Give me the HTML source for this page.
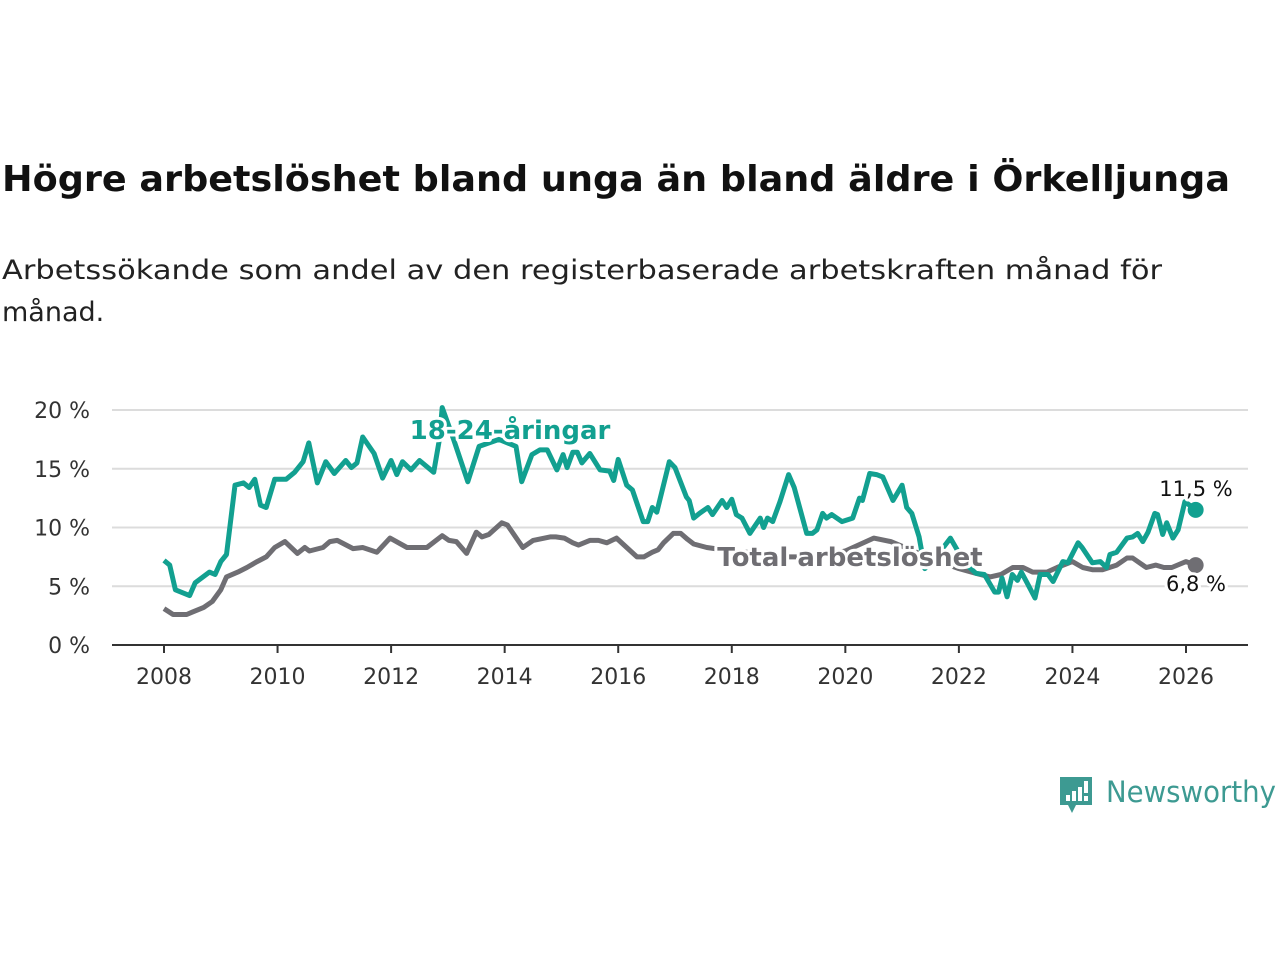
<!DOCTYPE html>
<html><head><meta charset="utf-8">
<style>
body{margin:0;background:#fff;width:1280px;height:960px;overflow:hidden;font-family:"Liberation Sans","DejaVu Sans",sans-serif}
svg text{font-family:"DejaVu Sans","Liberation Sans",sans-serif}
</style></head>
<body>
<svg id="chart" width="1280" height="960">
<text x="2" y="191" font-size="36" font-weight="bold" fill="#111" textLength="1228" lengthAdjust="spacingAndGlyphs">Högre arbetslöshet bland unga än bland äldre i Örkelljunga</text>
<text x="2" y="279" font-size="27" fill="#222" textLength="1160" lengthAdjust="spacingAndGlyphs">Arbetssökande som andel av den registerbaserade arbetskraften månad för</text>
<text x="2" y="321" font-size="27" fill="#222">månad.</text>
<g id="grid"></g><g id="lines"></g><g id="labels"></g>
<g>
<path d="M1060 777 h32 v28 h-16 l-4 8 l-4 -8 h-8 z" fill="#3d9a92"/>
<rect x="1066" y="795" width="4" height="6" fill="#fff"/><rect x="1072" y="791" width="4" height="10" fill="#fff"/><rect x="1078" y="787" width="4" height="14" fill="#fff"/><rect x="1084" y="781" width="4" height="12" fill="#fff"/><rect x="1084" y="796" width="4" height="5" fill="#fff"/>
<text x="1106" y="802" font-size="29" fill="#3d9a92" textLength="170" lengthAdjust="spacingAndGlyphs">Newsworthy</text>
</g>
</svg>
<script>
const yTicks=[0,5,10,15,20];
const xTicks=[2008,2010,2012,2014,2016,2018,2020,2022,2024,2026];
const youthDates=[2008.0,2008.1,2008.2,2008.45,2008.55,2008.8,2008.9,2009.0,2009.1,2009.25,2009.4,2009.5,2009.6,2009.7,2009.8,2009.95,2010.15,2010.3,2010.45,2010.55,2010.7,2010.85,2011.0,2011.2,2011.3,2011.4,2011.5,2011.7,2011.85,2012.0,2012.1,2012.2,2012.35,2012.5,2012.75,2012.85,2012.9,2013.1,2013.35,2013.55,2013.9,2014.2,2014.3,2014.48,2014.62,2014.75,2014.92,2015.03,2015.1,2015.2,2015.28,2015.36,2015.5,2015.68,2015.85,2015.92,2016.0,2016.15,2016.25,2016.44,2016.52,2016.6,2016.68,2016.9,2017.0,2017.2,2017.25,2017.33,2017.43,2017.58,2017.66,2017.83,2017.91,2018.0,2018.08,2018.18,2018.32,2018.5,2018.56,2018.63,2018.72,2018.85,2019.0,2019.1,2019.32,2019.42,2019.5,2019.6,2019.67,2019.76,2019.94,2020.13,2020.25,2020.3,2020.43,2020.55,2020.66,2020.84,2021.0,2021.08,2021.17,2021.3,2021.4,2021.6,2021.85,2022.1,2022.3,2022.45,2022.63,2022.7,2022.76,2022.85,2022.94,2023.03,2023.1,2023.2,2023.34,2023.43,2023.57,2023.66,2023.83,2023.92,2024.1,2024.17,2024.35,2024.49,2024.6,2024.66,2024.78,2024.96,2025.06,2025.15,2025.24,2025.33,2025.45,2025.5,2025.59,2025.66,2025.77,2025.86,2025.98,2026.17];
const youthValues=[7.2,6.8,4.7,4.2,5.3,6.2,6.0,7.1,7.7,13.6,13.8,13.4,14.1,11.9,11.7,14.1,14.1,14.7,15.6,17.2,13.8,15.6,14.6,15.7,15.1,15.5,17.7,16.3,14.2,15.7,14.5,15.6,14.9,15.7,14.7,17.5,20.2,17.5,13.9,16.9,17.5,16.9,13.9,16.2,16.6,16.6,14.9,16.2,15.1,16.4,16.4,15.5,16.3,14.9,14.8,14.0,15.8,13.6,13.2,10.5,10.5,11.7,11.3,15.6,15.1,12.6,12.3,10.8,11.2,11.7,11.1,12.3,11.7,12.4,11.1,10.8,9.5,10.8,10.0,10.8,10.5,12.2,14.5,13.4,9.5,9.5,9.8,11.2,10.8,11.1,10.5,10.8,12.5,12.3,14.6,14.5,14.3,12.3,13.6,11.7,11.2,9.2,6.5,7.5,9.1,7.0,6.1,6.0,4.5,4.5,5.7,4.1,6.0,5.5,6.2,5.3,4.0,6.0,6.0,5.4,7.1,7.0,8.7,8.3,7.0,7.1,6.6,7.7,7.9,9.1,9.2,9.5,8.8,9.6,11.2,11.1,9.4,10.4,9.1,9.8,12.2,11.5];
const totalDates=[2008.0,2008.16,2008.4,2008.5,2008.7,2008.85,2009.0,2009.1,2009.3,2009.46,2009.64,2009.8,2009.95,2010.13,2010.35,2010.48,2010.56,2010.8,2010.92,2011.05,2011.33,2011.5,2011.75,2011.98,2012.28,2012.47,2012.63,2012.9,2013.02,2013.15,2013.33,2013.5,2013.6,2013.72,2013.95,2014.05,2014.32,2014.5,2014.8,2014.9,2015.05,2015.2,2015.3,2015.5,2015.65,2015.8,2015.97,2016.15,2016.33,2016.45,2016.6,2016.7,2016.8,2016.97,2017.1,2017.22,2017.33,2017.56,2018.0,2018.5,2019.0,2019.5,2020.0,2020.5,2020.8,2021.2,2021.6,2022.0,2022.3,2022.55,2022.74,2022.95,2023.13,2023.3,2023.55,2023.73,2024.0,2024.18,2024.36,2024.53,2024.78,2024.96,2025.06,2025.3,2025.47,2025.61,2025.75,2026.0,2026.17];
const totalValues=[3.1,2.6,2.6,2.8,3.2,3.7,4.7,5.8,6.2,6.6,7.1,7.5,8.3,8.8,7.8,8.3,8.0,8.3,8.8,8.9,8.2,8.3,7.9,9.1,8.3,8.3,8.3,9.3,8.9,8.8,7.8,9.6,9.2,9.4,10.4,10.2,8.3,8.9,9.2,9.2,9.1,8.7,8.5,8.9,8.9,8.7,9.1,8.3,7.5,7.5,7.9,8.1,8.7,9.5,9.5,9.0,8.6,8.3,8.0,7.8,7.5,7.5,8.0,9.1,8.8,8.0,7.2,6.5,6.1,5.8,6.0,6.6,6.6,6.2,6.2,6.6,7.1,6.6,6.4,6.4,6.8,7.4,7.4,6.6,6.8,6.6,6.6,7.1,6.8];
const NS='http://www.w3.org/2000/svg';
const X0=112,X1=1248;
function xs(t){return 164+(t-2008)*(1186-164)/18;}
function ys(v){return 645-v*11.75;}
function mk(tag,attrs,parent){const e=document.createElementNS(NS,tag);for(const k in attrs)e.setAttribute(k,attrs[k]);parent.appendChild(e);return e;}
const grid=document.getElementById('grid'),lines=document.getElementById('lines'),labels=document.getElementById('labels');
yTicks.forEach(v=>{
  if(v>0){const g=mk('line',{x1:X0,x2:X1,y1:ys(v),y2:ys(v),stroke:'#dcdcdc','stroke-width':2},grid);
  
  }
  const t=mk('text',{x:90,y:ys(v)+8,'font-size':22,fill:'#333','text-anchor':'end'},grid);t.textContent=v+' %';
  
  
});
const ax=mk('line',{x1:X0,x2:X1,y1:645,y2:645,stroke:'#333','stroke-width':2},grid);


xTicks.forEach(y=>{
  const tk=mk('line',{x1:xs(y),x2:xs(y),y1:645,y2:653,stroke:'#333','stroke-width':2},grid);
  
  
  const t=mk('text',{x:xs(y),y:684,'font-size':22,fill:'#333','text-anchor':'middle'},grid);t.textContent=y;
  
  
});
function path(d,v){return d.map((t,i)=>(i?'L':'M')+xs(t).toFixed(1)+' '+ys(v[i]).toFixed(1)).join(' ');}
const tl=mk('path',{d:path(totalDates,totalValues),fill:'none',stroke:'#6f6e73','stroke-width':5,'stroke-linejoin':'round'},lines);


const yl=mk('path',{d:path(youthDates,youthValues),fill:'none',stroke:'#12a090','stroke-width':5,'stroke-linejoin':'round'},lines);


const n=youthDates.length-1,m=totalDates.length-1;
const d1=mk('circle',{cx:xs(youthDates[n]),cy:ys(youthValues[n]),r:8,fill:'#12a090'},lines);


const d2=mk('circle',{cx:xs(totalDates[m]),cy:ys(totalValues[m]),r:8,fill:'#6f6e73'},lines);


function lab(txt,x,y,col,size,bold,anchor,name){const t=mk('text',{x:x,y:y,fill:col,'font-size':size,'font-weight':bold?'bold':'normal','text-anchor':anchor,stroke:'#fff','stroke-width':6,'paint-order':'stroke','stroke-linejoin':'round'},labels);t.textContent=txt;

}
lab('18-24-åringar',510,439,'#12a090',26,true,'middle','youth-series-label');
lab('Total arbetslöshet',850,566,'#6f6e73',26,true,'middle','total-series-label');
lab(String(youthValues[n]).replace('.',',')+' %',1196,496,'#111',21,false,'middle','youth-end-value');
lab(String(totalValues[m]).replace('.',',')+' %',1196,591,'#111',21,false,'middle','total-end-value');
</script>
</body></html>
